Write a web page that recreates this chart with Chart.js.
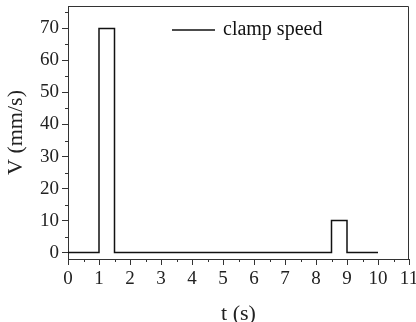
<!DOCTYPE html>
<html>
<head>
<meta charset="utf-8">
<script src="https://cdn.jsdelivr.net/npm/chart.js@4"></script>
<style>
  html, body { margin: 0; padding: 0; background: #fff; }
  #wrap { width: 416px; height: 322px; }
</style>
</head>
<body>
<div id="wrap"><canvas id="myChart"></canvas></div>
<script>
// step profile of the clamp speed
const tValues = [0, 1, 1, 1.5, 1.5, 8.5, 8.5, 9, 9, 10];
const vValues = [0, 0, 70, 70, 0, 0, 10, 10, 0, 0];
const seriesLabel = 'clamp speed';
const xTicks = [0, 1, 2, 3, 4, 5, 6, 7, 8, 9, 10, 11];
const yTicks = [0, 10, 20, 30, 40, 50, 60, 70];

const serif = "'Liberation Serif', 'DejaVu Serif', serif";
const axisColor = '#333';

// short minor ticks halfway between the major ones + frame + legend
const extras = {
  id: 'extras',
  afterDraw(chart) {
    const c = chart.ctx;
    const a = chart.chartArea;
    const xs = chart.scales.x;
    const ys = chart.scales.y;
    c.save();
    c.strokeStyle = axisColor;
    c.lineWidth = 1;
    c.beginPath();
    for (let i = 0; i < xTicks.length - 1; i++) {
      const px = Math.round(xs.getPixelForValue(xTicks[i] + 0.5)) + 0.5;
      c.moveTo(px, a.bottom);
      c.lineTo(px, a.bottom + 3);
    }
    for (let i = 0; i < yTicks.length; i++) {
      const py = Math.round(ys.getPixelForValue(yTicks[i] + 5)) + 0.5;
      c.moveTo(a.left, py);
      c.lineTo(a.left - 3, py);
    }
    c.stroke();
    // top and right sides of the box
    c.beginPath();
    c.moveTo(a.left, a.top + 0.5);
    c.lineTo(a.right - 0.5, a.top + 0.5);
    c.lineTo(a.right - 0.5, a.bottom);
    c.stroke();
    // legend
    const ly = a.top + 24;
    const lx = a.left + 104;
    c.strokeStyle = '#111';
    c.lineWidth = 1.5;
    c.beginPath();
    c.moveTo(lx, ly);
    c.lineTo(lx + 43, ly);
    c.stroke();
    c.fillStyle = '#111';
    c.font = '20px ' + serif;
    c.textBaseline = 'middle';
    c.fillText(chart.data.datasets[0].label, lx + 51, ly);
    c.restore();
  }
};

new Chart(document.getElementById('myChart'), {
  type: 'line',
  data: {
    datasets: [{
      label: seriesLabel,
      data: tValues.map((t, i) => ({ x: t, y: vValues[i] })),
      borderColor: '#111',
      borderWidth: 1.5,
      pointRadius: 0,
      fill: false,
      tension: 0
    }]
  },
  options: {
    responsive: true,
    maintainAspectRatio: false,
    animation: false,
    layout: { padding: { top: 6, right: 7, left: 0, bottom: 0 } },
    plugins: {
      legend: { display: false },
      tooltip: { enabled: false }
    },
    scales: {
      x: {
        type: 'linear',
        min: 0,
        max: 11,
        afterFit(scale) {
          scale.height = 63;
          scale.paddingLeft = 0;
          scale.paddingRight = 0;
        },
        ticks: {
          stepSize: 1,
          color: '#222',
          padding: 3,
          maxRotation: 0,
          font: { family: serif, size: 19 }
        },
        grid: { drawOnChartArea: false, tickLength: 6, color: axisColor },
        border: { color: axisColor, width: 1 },
        title: {
          display: true,
          text: 't (s)',
          color: '#222',
          padding: { top: 0, bottom: -3 },
          font: { family: serif, size: 22, lineHeight: 1 }
        }
      },
      y: {
        min: -2,
        max: 77,
        afterFit(scale) {
          scale.width = 68;
          scale.paddingTop = 0;
          scale.paddingBottom = 0;
        },
        ticks: {
          stepSize: 10,
          includeBounds: false,
          color: '#222',
          padding: 3,
          font: { family: serif, size: 19 }
        },
        grid: { drawOnChartArea: false, tickLength: 6, color: axisColor },
        border: { color: axisColor, width: 1 },
        title: {
          display: true,
          text: 'V (mm/s)',
          color: '#222',
          padding: { top: 5 },
          font: { family: serif, size: 22, lineHeight: 1 }
        }
      }
    }
  },
  plugins: [extras]
});
</script>
</body>
</html>
